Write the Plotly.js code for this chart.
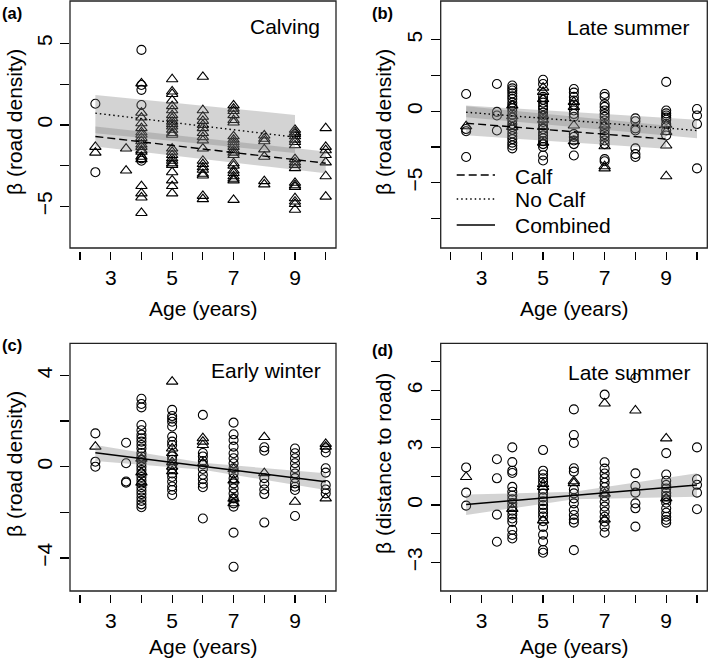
<!DOCTYPE html>
<html>
<head>
<meta charset="utf-8">
<script src="https://cdn.plot.ly/plotly-3.0.1.min.js"></script>
<style>
  html, body { margin: 0; padding: 0; background: #fff; }
  #graph { width: 709px; height: 662px; }
</style>
</head>
<body>
<div id="graph"></div>
<script>
// ---- data: [age, [beta values]] per column ----

// (a) Calving, road density
const calvingCircles = [
    [2.5, [1.3, -2.9]],
    [4, [4.6, 2.45, 2.15, 1.22, -2.05, -2.2]]
];
const calvingTriangles = [
    [2.5, [-1.35, -1.7]],
    [3.5, [-1.45, -2.8]],
    [4, [2.55, 0.75, 0.45, 0.1, -0.2, -0.45, -0.6, -0.8, -1.0, -1.2, -1.35, -1.55, -1.65, -1.95, -2.1, -3.75, -4.2, -4.45, -5.4]],
    [5, [2.8, 2.05, 1.9, 1.5, 1.15, 0.9, 0.6, 0.4, 0.2, 0.05, -0.1, -0.3, -0.5, -0.6, -1.45, -1.65, -1.85, -2.05, -2.2, -2.35, -2.45, -2.9, -3.4, -3.75, -4.2]],
    [6, [2.95, 0.9, 0.5, 0.25, 0.0, -0.2, -0.5, -0.75, -0.95, -1.45, -2.2, -2.4, -2.6, -2.75, -3.0, -3.1, -4.35, -4.55]],
    [7, [1.2, 1.0, 0.85, 0.6, 0.3, 0.15, -0.7, -0.9, -1.05, -1.2, -1.35, -1.55, -1.7, -1.85, -2.35, -2.5, -2.8, -2.95, -3.15, -3.3, -3.4, -4.6]],
    [8, [-0.65, -0.85, -1.0, -1.5, -1.95, -3.45, -3.65]],
    [9, [-0.3, -0.45, -0.55, -0.7, -0.9, -1.05, -1.25, -2.1, -2.3, -2.45, -2.65, -3.55, -3.7, -3.8, -4.5, -4.7, -4.85, -5.2]],
    [10, [-0.2, -1.35, -1.55, -1.85, -2.3, -3.15, -4.4]]
];
const calvingCalfX = [2.5, 10];
const calvingCalfY = [-0.71, -2.35];
const calvingCalfLo = [-1.33, -2.96];
const calvingCalfHi = [-0.1, -1.63];
const calvingNoCalfX = [2.5, 9];
const calvingNoCalfY = [0.72, -0.75];
const calvingNoCalfLo = [-0.51, -1.73];
const calvingNoCalfHi = [1.84, 0.61];

// (b) Late summer, road density
const summerCircles = [
    [2.5, [1.2, -1.25, -1.4, -3.2]],
    [3.5, [1.9, -0.05, -0.3, -1.35]],
    [4, [1.8, 1.6, 1.45, 1.25, 1.05, 0.85, 0.6, 0.4, 0.2, 0.0, -0.25, -0.45, -0.65, -0.9, -1.1, -1.3, -1.55, -1.75, -1.95, -2.2, -2.4, -2.6]],
    [5, [2.2, 1.9, 1.0, 0.8, 0.6, 0.35, 0.15, -0.1, -0.3, -0.55, -0.75, -1.0, -1.25, -1.5, -1.7, -1.9, -2.1, -2.3, -2.5, -3.1, -3.45]],
    [6, [1.55, 1.3, 1.0, 0.75, 0.45, 0.05, -0.2, -0.4, -1.6, -1.8, -2.05, -2.3, -3.1]],
    [7, [1.2, 1.0, 0.5, 0.3, 0.05, -0.2, -0.4, -0.65, -0.9, -1.1, -1.35, -1.6, -1.8, -2.05, -2.3, -3.35, -3.5]],
    [8, [-0.5, -0.7, -1.2, -1.35, -2.6, -3.0, -3.2]],
    [9, [2.05, 0.05, -0.15, -0.3, -0.45, -0.6, -0.9, -1.35, -1.7]],
    [10, [0.15, -0.3, -0.9, -4.0]]
];
const summerTriangles = [
    [2.5, [-1.05]],
    [4, [0.4, -0.35, -1.1]],
    [5, [1.65, 1.35, 0.85, -0.3, -0.6, -1.1, -2.2]],
    [6, [0.65, 0.3, -1.0, -2.1]],
    [7, [-1.0, -2.45, -3.85, -4.0]],
    [9, [-0.95, -1.45, -2.4, -4.55]]
];
const summerCalfX = [2.5, 9];
const summerCalfY = [-0.84, -1.95];
const summerCalfLo = [-1.69, -2.62];
const summerCalfHi = [0.35, -1.0];
const summerNoCalfX = [2.5, 10];
const summerNoCalfY = [-0.07, -1.35];
const summerNoCalfLo = [-0.42, -1.9];
const summerNoCalfHi = [0.4, -0.6];

// (c) Early winter, road density
const winterCircles = [
    [2.5, [1.46, 0.22, 0.0]],
    [3.5, [1.05, 0.15, -0.65, -0.7]],
    [4, [2.98, 2.75, 2.6, 1.83, 1.6, 1.4, 1.25, 1.1, 0.95, 0.8, 0.6, 0.45, 0.3, 0.15, 0.0, -0.15, -0.3, -0.45, -0.6, -0.75, -0.9, -1.05, -1.2, -1.35, -1.5, -1.65, -1.78]],
    [5, [2.49, 2.22, 2.1, 1.97, 1.76, 1.32, 1.1, 0.95, 0.45, 0.3, 0.1, -0.1, -0.3, -0.45, -0.65, -0.87, -1.02, -1.24]],
    [6, [2.27, 0.6, 0.45, 0.25, 0.1, -0.1, -0.35, -0.55, -0.75, -0.9, -2.27]],
    [7, [1.93, 1.42, 1.17, 0.88, 0.59, 0.37, 0.15, -0.07, -0.29, -0.51, -0.73, -0.95, -1.17, -1.39, -1.61, -1.75, -2.89, -4.39]],
    [8, [0.85, 0.7, -0.5, -0.75, -1.0, -1.2, -2.45]],
    [9, [0.8, 0.59, 0.37, 0.15, -0.07, -0.3, -0.5, -0.73, -0.88, -1.02, -2.16]],
    [10, [0.81, 0.62, -0.07, -0.26, -0.8, -1.0, -1.17]]
];
const winterTriangles = [
    [2.5, [0.88]],
    [4, [0.35, -0.25, -0.7]],
    [5, [3.73, 0.8, 0.6, 0.2, 0.0, -0.2]],
    [6, [1.25, 1.1, 0.95, 0.15]],
    [7, [-0.1, -0.6, -1.4, -1.6]],
    [8, [1.3, -0.28]],
    [9, [-1.54]],
    [10, [1.0, 0.88, -1.39]]
];
const winterFitX = [2.5, 10];
const winterFitY = [0.61, -0.66];
const winterBandX = [2.5, 6, 10];
const winterBandLo = [0.25, -0.13, -1.02];
const winterBandHi = [0.95, 0.17, -0.29];

// (d) Late summer, distance to road
const distCircles = [
    [2.5, [1.97, 0.65, -0.03]],
    [3.5, [2.4, 1.4, -0.5, -1.92]],
    [4, [3.02, 2.25, 1.8, 1.68, 0.95, 0.7, 0.5, 0.3, 0.1, -0.1, -0.3, -0.5, -0.7, -0.88, -1.3, -1.57, -1.75]],
    [5, [2.88, 1.8, 1.6, 1.4, 1.2, 0.8, 0.6, 0.4, 0.2, 0.0, -0.2, -0.4, -0.6, -0.85, -1.15, -1.55, -1.9, -2.35, -2.5]],
    [6, [5.01, 3.67, 3.25, 1.93, 1.75, 0.82, 0.61, 0.35, 0.09, -0.26, -0.52, -0.75, -0.92, -2.36]],
    [7, [5.78, 2.24, 1.91, 1.65, 1.4, 1.17, 0.93, 0.7, 0.45, 0.18, -0.08, -0.35, -0.61, -0.87, -1.13, -1.45]],
    [8, [6.65, 1.66, 1.0, 0.65, 0.09, -0.17, -1.13]],
    [9, [2.72, 1.6, 1.27, 1.05, 0.87, 0.65, 0.47, 0.3, 0.12, -0.17, -0.4, -0.61, -0.78, -0.92]],
    [10, [3.02, 1.35, 1.06, 0.65, -0.22]]
];
const distTriangles = [
    [2.5, [1.47]],
    [4, [-0.2]],
    [5, [1.1, 0.95, -0.8]],
    [6, [1.15, 1.25]],
    [7, [5.32, 0.6, -0.75]],
    [8, [4.95]],
    [9, [3.49, 0.35]]
];
const distFitX = [2.5, 10];
const distFitY = [0.03, 1.05];
const distBandX = [2.5, 6, 10];
const distBandLo = [-0.52, 0.3, 0.44];
const distBandHi = [0.55, 0.7, 1.66];

// tick labels
const ageTicks = [2, 3, 4, 5, 6, 7, 8, 9, 10];
const ageLabels = ['', '3', '', '5', '', '7', '', '9', ''];

const W = 709, H = 662;
const FONT = 'Liberation Sans, Arial, Helvetica, sans-serif';
const px = v => v / W;
const py = v => 1 - v / H;

const DASH = '8px,4px';
const DOT = '1.5px,3px';
const BAND = 'rgba(120,120,120,0.33)';

function flatten(cols) {
    let xs = [];
    let ys = [];
    cols.forEach(function (c) {
        c[1].forEach(function (v) { xs.push(c[0]); ys.push(v); });
    });
    return [xs, ys];
}

function points(cols, symbol, size, ax) {
    let [xs, ys] = flatten(cols);
    return {
        x: xs, y: ys, xaxis: 'x' + ax, yaxis: 'y' + ax,
        mode: 'markers', type: 'scatter', hoverinfo: 'skip',
        marker: { symbol: symbol, size: size, color: 'black', line: { color: 'black', width: 1.1 } }
    };
}

function band(xs, lo, hi, ax) {
    return {
        x: xs.concat(xs.slice().reverse()),
        y: lo.concat(hi.slice().reverse()),
        xaxis: 'x' + ax, yaxis: 'y' + ax,
        mode: 'lines', type: 'scatter', fill: 'toself',
        fillcolor: BAND, line: { width: 0 }, hoverinfo: 'skip'
    };
}

function fit(xs, ys, dash, ax) {
    return {
        x: xs, y: ys, xaxis: 'x' + ax, yaxis: 'y' + ax,
        mode: 'lines', type: 'scatter', hoverinfo: 'skip',
        line: { color: 'black', width: 1.4, dash: dash }
    };
}

const data = [
    points(calvingCircles, 'circle-open', 9, ''),
    points(calvingTriangles, 'triangle-up-open', 10, ''),
    band(calvingNoCalfX, calvingNoCalfLo, calvingNoCalfHi, ''),
    band(calvingCalfX, calvingCalfLo, calvingCalfHi, ''),
    fit(calvingNoCalfX, calvingNoCalfY, DOT, ''),
    fit(calvingCalfX, calvingCalfY, DASH, ''),

    points(summerCircles, 'circle-open', 9, '2'),
    points(summerTriangles, 'triangle-up-open', 10, '2'),
    band(summerNoCalfX, summerNoCalfLo, summerNoCalfHi, '2'),
    band(summerCalfX, summerCalfLo, summerCalfHi, '2'),
    fit(summerNoCalfX, summerNoCalfY, DOT, '2'),
    fit(summerCalfX, summerCalfY, DASH, '2'),

    points(winterCircles, 'circle-open', 9, '3'),
    points(winterTriangles, 'triangle-up-open', 10, '3'),
    band(winterBandX, winterBandLo, winterBandHi, '3'),
    fit(winterFitX, winterFitY, 'solid', '3'),

    points(distCircles, 'circle-open', 9, '4'),
    points(distTriangles, 'triangle-up-open', 10, '4'),
    band(distBandX, distBandLo, distBandHi, '4'),
    fit(distFitX, distFitY, 'solid', '4')
];

// panel boxes in pixels: [left, right, top, bottom]
const boxes = [
    [70, 336, 1, 248],
    [440.7, 707.3, 1, 248],
    [70, 336, 343.3, 591],
    [440.7, 707.3, 343.3, 591]
];

function xAxis(b) {
    return {
        domain: [px(b[0]), px(b[1])], range: [1.674, 10.335],
        anchor: 'free', position: py(b[3] + 3),
        showline: false, showgrid: false, zeroline: false,
        ticks: 'outside', ticklen: 8, tickwidth: 1.2, tickcolor: 'black',
        tickmode: 'array', tickvals: ageTicks, ticktext: ageLabels,
        tickfont: { family: FONT, size: 21, color: 'black' }
    };
}

function yAxis(b, ax, range, vals, labels) {
    return {
        domain: [py(b[3]), py(b[2])], range: range, anchor: 'x' + ax,
        showline: false, showgrid: false, zeroline: false,
        ticks: 'outside', ticklen: 9, tickwidth: 1.2, tickcolor: 'black',
        tickmode: 'array', tickvals: vals, ticktext: labels, tickangle: -90,
        tickfont: { family: FONT, size: 21, color: 'black' }
    };
}

const shapes = boxes.map(function (b) {
    return {
        type: 'rect', xref: 'paper', yref: 'paper',
        x0: px(b[0]), x1: px(b[1]), y0: py(b[3]), y1: py(b[2]),
        line: { color: '#222', width: 1.3 }
    };
});

// legend in panel (b)
const legendRows = [['Calf', DASH, 175], ['No Calf', DOT, 199], ['Combined', 'solid', 225]];
legendRows.forEach(function (r) {
    shapes.push({
        type: 'line', xref: 'paper', yref: 'paper',
        x0: px(456.7), x1: px(495), y0: py(r[2]), y1: py(r[2]),
        line: { color: 'black', width: 1.4, dash: r[1] }
    });
});

function label(text, x, y, opts) {
    return Object.assign({
        text: text, xref: 'paper', yref: 'paper', x: px(x), y: py(y),
        showarrow: false, xanchor: 'center', yanchor: 'middle',
        font: { family: FONT, size: 21, color: 'black' }
    }, opts || {});
}

const annotations = [
    label('<b>(a)</b>', 0, 13, { xanchor: 'left', font: { family: FONT, size: 16.5, color: 'black' } }),
    label('<b>(b)</b>', 370, 13, { xanchor: 'left', font: { family: FONT, size: 16.5, color: 'black' } }),
    label('<b>(c)</b>', 0, 345, { xanchor: 'left', font: { family: FONT, size: 16.5, color: 'black' } }),
    label('<b>(d)</b>', 370, 350, { xanchor: 'left', font: { family: FONT, size: 16.5, color: 'black' } }),

    label('Calving', 322, 26, { xanchor: 'right' }),
    label('Late summer', 692, 27.5, { xanchor: 'right' }),
    label('Early winter', 323, 370, { xanchor: 'right' }),
    label('Late summer', 693, 372, { xanchor: 'right' }),

    label('β (road density)', 14, 122, { textangle: -90 }),
    label('β (road density)', 383, 122, { textangle: -90 }),
    label('β (road density)', 14, 464, { textangle: -90 }),
    label('β (distance to road)', 383, 464, { textangle: -90 }),

    label('Age (years)', 203, 309),
    label('Age (years)', 574, 309),
    label('Age (years)', 203, 646),
    label('Age (years)', 574, 646),

    label('Calf', 513, 176.5, { xanchor: 'left' }),
    label('No Calf', 513, 200, { xanchor: 'left' }),
    label('Combined', 513, 226, { xanchor: 'left' })
];

const layout = {
    width: W, height: H,
    margin: { l: 0, r: 0, t: 0, b: 0 },
    paper_bgcolor: 'white', plot_bgcolor: 'white',
    showlegend: false,
    font: { family: FONT, color: 'black' },
    xaxis: xAxis(boxes[0]),
    xaxis2: xAxis(boxes[1]),
    xaxis3: xAxis(boxes[2]),
    xaxis4: xAxis(boxes[3]),
    yaxis: yAxis(boxes[0], '', [-7.55, 7.6], [-5, -2.5, 0, 2.5, 5], ['−5', '', '0', '', '5']),
    yaxis2: yAxis(boxes[1], '2', [-9.57, 7.71], [-7.5, -5, -2.5, 0, 2.5, 5], ['', '−5', '', '0', '', '5']),
    yaxis3: yAxis(boxes[2], '3', [-5.45, 5.41], [-4, -2, 0, 2, 4], ['−4', '', '0', '', '4']),
    yaxis4: yAxis(boxes[3], '4', [-4.5, 8.47], [-3, -1.5, 0, 1.5, 3, 4.5, 6, 7.5], ['−3', '', '0', '', '3', '', '6', '']),
    shapes: shapes,
    annotations: annotations
};

Plotly.newPlot('graph', data, layout, { staticPlot: true });
</script>
</body>
</html>
